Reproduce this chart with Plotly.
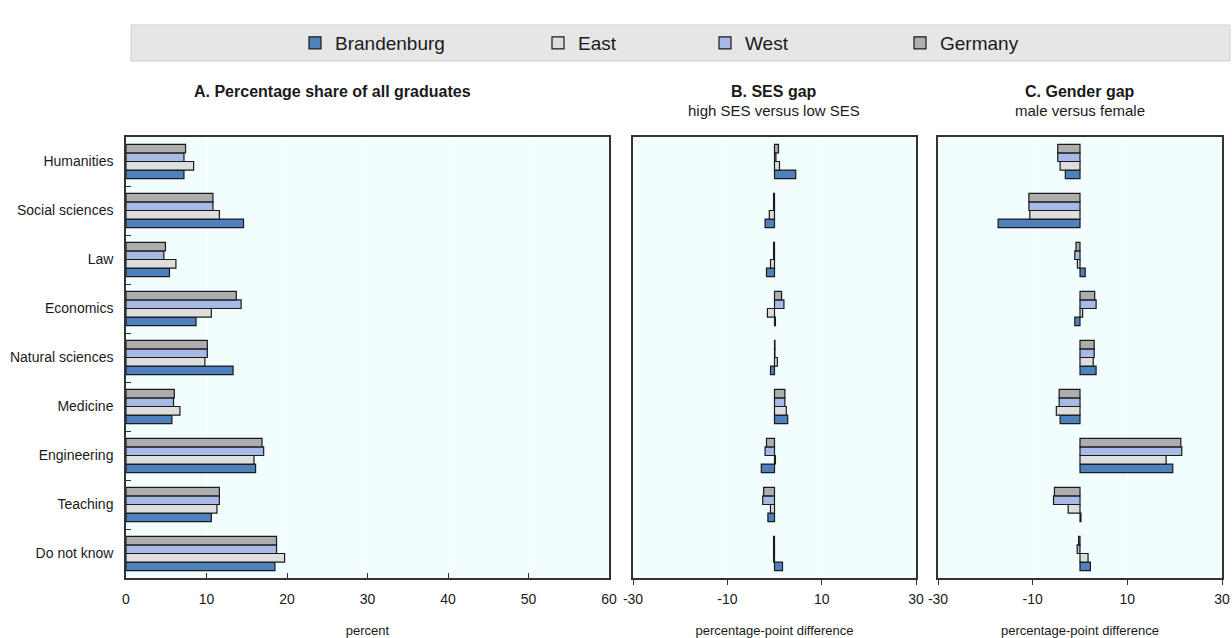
import plotly.graph_objects as go

categories = ["Humanities", "Social sciences", "Law", "Economics", "Natural sciences",
              "Medicine", "Engineering", "Teaching", "Do not know"]
series_names = ["Brandenburg", "East", "West", "Germany"]

# Panel A: percentage share of all graduates
share_brandenburg = [7.2, 14.6, 5.4, 8.7, 13.3, 5.7, 16.1, 10.6, 18.5]
share_east =        [8.4, 11.6, 6.2, 10.6, 9.8, 6.7, 15.9, 11.3, 19.7]
share_west =        [7.2, 10.8, 4.7, 14.3, 10.1, 5.9, 17.1, 11.6, 18.7]
share_germany =     [7.4, 10.8, 4.9, 13.7, 10.1, 6.0, 16.9, 11.6, 18.7]

# Panel B: SES gap (high SES versus low SES)
ses_brandenburg = [4.5, -2.0, -1.7, 0.2, -0.85, 2.8, -2.8, -1.4, 1.7]
ses_east =        [1.06, -1.1, -0.85, -1.5, 0.6, 2.5, 0.2, -0.85, -0.2]
ses_west =        [0.3, -0.2, -0.2, 2.0, 0.1, 2.2, -2.0, -2.5, -0.2]
ses_germany =     [0.85, -0.2, -0.2, 1.5, 0.1, 2.2, -1.7, -2.3, -0.2]

# Panel C: Gender gap (male versus female)
gen_brandenburg = [-3.1, -17.3, 1.1, -1.1, 3.4, -4.2, 19.6, 0.2, 2.2]
gen_east =        [-4.2, -10.6, -0.55, 0.55, 2.8, -5.0, 18.2, -2.5, 1.7]
gen_west =        [-4.7, -10.8, -1.1, 3.4, 3.0, -4.4, 21.5, -5.6, -0.6]
gen_germany =     [-4.7, -10.8, -0.85, 3.1, 3.0, -4.4, 21.3, -5.4, -0.3]

gap_tickvals = [-30, -10, 10, 30]
gap_ticktext = ["-30", "-10", "10", "30"]

colors = {"Brandenburg": "#4f81bd", "East": "#dedede", "West": "#a7b9e5", "Germany": "#adadad"}

panels = [
    (("x", "y"), [share_brandenburg, share_east, share_west, share_germany]),
    (("x2", "y2"), [ses_brandenburg, ses_east, ses_west, ses_germany]),
    (("x3", "y3"), [gen_brandenburg, gen_east, gen_west, gen_germany]),
]

FONT = "Liberation Sans, Arial, sans-serif"
W, H = 1232, 638

fig = go.Figure()
legend_ids = ["legend", "legend2", "legend3", "legend4"]
for p, ((xa, ya), vals) in enumerate(panels):
    for i, name in enumerate(series_names):
        fig.add_trace(go.Bar(
            x=vals[i], y=categories, orientation="h", name=name,
            xaxis=xa, yaxis=ya,
            marker=dict(color=colors[name], line=dict(color="#1a1a1a", width=1.2)),
            showlegend=(p == 0), legend=legend_ids[i],
            hoverinfo="x+y+name",
        ))

def px_x(v):
    return v / W

def px_y(v):
    return 1 - v / H

ydom = [px_y(578), px_y(137)]
bg = "#f2fefe"
axis_line = dict(showline=True, linecolor="#333333", linewidth=1.5, mirror=True, automargin=False)

yax_common = dict(categoryorder="array", categoryarray=list(reversed(categories)),
                  domain=ydom, **axis_line)

fig.update_layout(
    width=W, height=H, margin=dict(l=0, r=0, t=0, b=0),
    paper_bgcolor="white", plot_bgcolor=bg,
    barmode="group", bargap=0.3, bargroupgap=0,
    font=dict(family=FONT, size=14, color="#1a1a1a"),
    xaxis=dict(domain=[px_x(126), px_x(609)], range=[0, 60], dtick=10, tick0=0,
               ticks="inside", ticklen=5, tickcolor="#333333", ticklabelstandoff=7,
               showgrid=True, gridcolor="#ffffff", gridwidth=1, zeroline=False,
               title=dict(text="percent", font=dict(size=13), standoff=24),
               tickfont=dict(size=14), anchor="y", **axis_line),
    yaxis=dict(ticks="inside", ticklen=5, tickcolor="#333333", tickson="boundaries",
               ticklabelstandoff=8,
               tickfont=dict(size=14), anchor="x", showgrid=False, **yax_common),
    xaxis2=dict(domain=[px_x(633), px_x(916)], range=[-30, 30],
                tickvals=gap_tickvals, ticktext=gap_ticktext,
                ticks="outside", ticklen=5, tickcolor="#333333", ticklabelstandoff=2,
                showgrid=True, gridcolor="#ffffff", zeroline=False,
                title=dict(text="percentage-point difference", font=dict(size=13), standoff=22),
                tickfont=dict(size=14), anchor="y2", **axis_line),
    yaxis2=dict(showticklabels=False, ticks="", showgrid=False, anchor="x2", **yax_common),
    xaxis3=dict(domain=[px_x(938), px_x(1222)], range=[-30, 30],
                tickvals=gap_tickvals, ticktext=gap_ticktext,
                ticks="outside", ticklen=5, tickcolor="#333333", ticklabelstandoff=2,
                showgrid=True, gridcolor="#ffffff", zeroline=False,
                title=dict(text="percentage-point difference", font=dict(size=13), standoff=22),
                tickfont=dict(size=14), anchor="y3", **axis_line),
    yaxis3=dict(showticklabels=False, ticks="", showgrid=False, anchor="x3", **yax_common),
)

# Legend band
fig.add_shape(type="rect", xref="paper", yref="paper",
              x0=px_x(131), x1=px_x(1230), y0=px_y(61), y1=px_y(25),
              fillcolor="#e6e6e6", line=dict(color="#d0d0d0", width=1), layer="below")

text_starts = [337, 580, 747, 942]
for lid, ts in zip(legend_ids, text_starts):
    fig.layout[lid] = dict(
        x=px_x(ts - 42), y=px_y(43), xanchor="left", yanchor="middle",
        orientation="h", bgcolor="rgba(0,0,0,0)", borderwidth=0,
        font=dict(family=FONT, size=19, color="#1a1a1a"),
    )

annots = [
    (332, 91, "<b>A. Percentage share of all graduates</b>", 16),
    (774, 91, "<b>B. SES gap</b>", 16),
    (774, 111, "high SES versus low SES", 15),
    (1080, 91, "<b>C. Gender gap</b>", 16),
    (1080, 111, "male versus female", 15),
]
for x, y, t, s in annots:
    fig.add_annotation(x=px_x(x), y=px_y(y), xref="paper", yref="paper", text=t,
                       showarrow=False, xanchor="center", yanchor="middle",
                       font=dict(family=FONT, size=s, color="#1a1a1a"))

fig.write_html("out.html")
